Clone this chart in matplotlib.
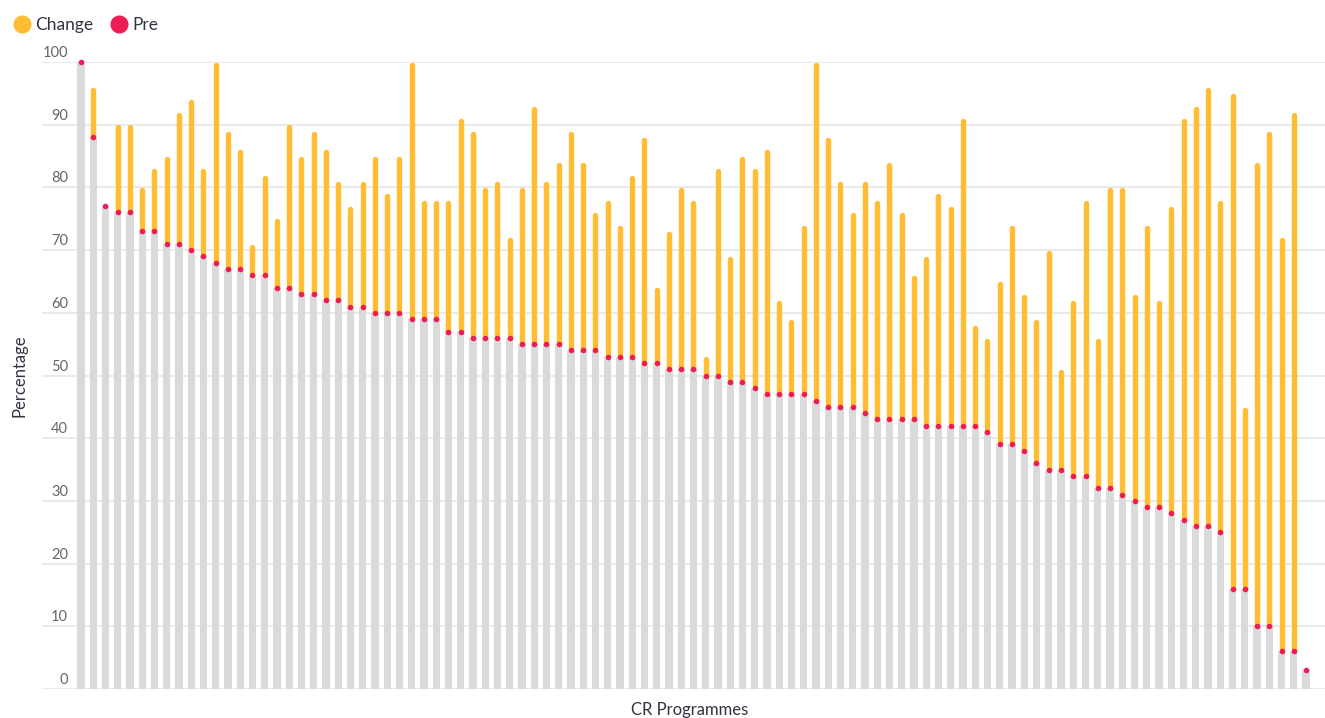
import numpy as np
import matplotlib.pyplot as plt
import matplotlib.transforms as mtransforms
from matplotlib.lines import Line2D

plt.rcParams['font.family'] = ['Lato', 'DejaVu Sans']

# pre score for each programme, sorted high to low
pre = [100, 88, 77, 76, 76, 73, 73, 71, 71, 70, 69, 68, 67, 67, 66, 66, 64, 64, 63, 63,
       62, 62, 61, 61, 60, 60, 60, 59, 59, 59, 57,
       57, 56, 56, 56, 56, 55, 55, 55, 55, 54, 54, 54, 53, 53, 53, 52, 52, 51, 51,
       51, 50, 50, 49, 49, 48, 47, 47, 47, 47, 46, 45, 45, 45, 44, 43,
       43, 43, 43, 42, 42, 42, 42, 42, 41, 39, 39, 38, 36, 35, 35, 34, 34, 32, 32,
       31, 30, 29, 29, 28, 27, 26, 26, 25, 16, 16, 10, 10, 6, 6, 3]

# change (post - pre)
change = [0, 8, 0, 14, 14, 7, 10, 14, 21, 24, 14, 32, 22, 19, 5, 16, 11, 26, 22, 26,
          24, 19, 16, 20, 25, 19, 25, 41, 19, 19, 21,
          34, 33, 24, 25, 16, 25, 38, 26, 29, 35, 30, 22, 25, 21, 29, 36, 12, 22, 29,
          27, 3, 33, 20, 36, 35, 39, 15, 12, 27, 54, 43, 36, 31, 37, 35,
          41, 33, 23, 27, 37, 35, 49, 16, 15, 26, 35, 25, 23, 35, 16, 28, 44, 24, 48,
          49, 33, 45, 33, 49, 64, 67, 70, 53, 79, 29, 74, 79, 66, 86, 0]

yticks = [0, 10, 20, 30, 40, 50, 60, 70, 80, 90, 100]

GREY = '#d9dadc'
ORANGE = '#ffbd33'
RED = '#ee1c55'

pre = np.array(pre)
change = np.array(change)
x = np.arange(len(pre))

fig = plt.figure(figsize=(13.25, 7.18), dpi=100)
ax = fig.add_axes([42/1325, 1 - 689/718, 1283/1325, 627/718])

for t in yticks:
    ax.axhline(t, color='#e6e6e6', lw=1.2, zorder=0)

ax.bar(x, pre, width=0.58, color=GREY, zorder=1)

# rounded tops should end on the value, so pull the line in by the cap radius
lw = 3.9
cap = (lw / 2 * fig.dpi / 72) / (627 / 100)
has = change > 0
lc = ax.vlines(x[has], pre[has], pre[has] + change[has] - cap, color=ORANGE,
               lw=lw, zorder=2, clip_on=False)
lc.set_capstyle('round')

ax.scatter(x, pre, s=16, color=RED, zorder=3, linewidths=0, clip_on=False)

ax.set_xlim(-3.18, 101.55)
ax.set_ylim(0, 100)
ax.set_xticks([])
ax.set_yticks([])
for s in ax.spines.values():
    s.set_visible(False)

# tick labels sit just above their gridlines
trans = mtransforms.offset_copy(ax.get_yaxis_transform(), fig=fig, y=2, units='dots')
for t in yticks:
    ax.text(26/1283, t, str(t), transform=trans, ha='right', va='bottom',
            fontsize=10.5, color='#666666')

ax.set_ylabel('Percentage', fontsize=12, color='#333344')
ax.yaxis.set_label_coords(-0.011, 0.5)
ax.set_xlabel('CR Programmes', fontsize=12, color='#333344')
ax.xaxis.set_label_coords(0.505, -0.021)
ax.xaxis.label.set_verticalalignment('top')

handles = [Line2D([], [], ls='', marker='o', ms=12, color=ORANGE),
           Line2D([], [], ls='', marker='o', ms=12, color=RED)]
fig.legend(handles, ['Change', 'Pre'], loc='upper left', bbox_to_anchor=(13/1325, 1 - 17/718),
           ncol=2, frameon=False, fontsize=12.5, handlelength=1.0, handletextpad=0.3,
           columnspacing=0.94, borderpad=0, borderaxespad=0, labelcolor='#333344')

fig.savefig('out.png', dpi=100)
